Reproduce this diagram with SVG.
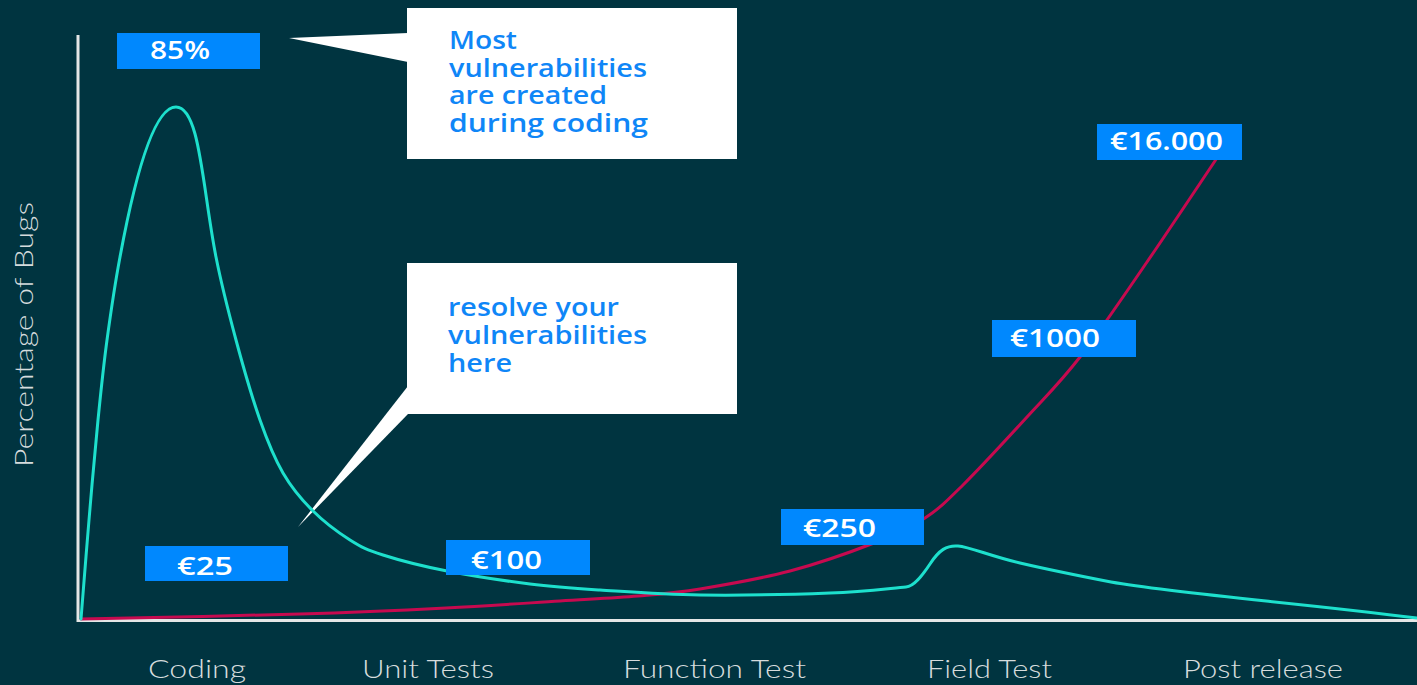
<svg xmlns="http://www.w3.org/2000/svg" width="1417" height="685" viewBox="0 0 1417 685">
  <style>
    .axis { stroke: #e4e6e6; stroke-width: 3; fill: none; }
    .bubble { fill: #ffffff; }
    .note { font-family: "Open Sans", "Noto Sans", "Liberation Sans", sans-serif; font-weight: 600; font-size: 25px; fill: #0f86f7; }
    .tag { fill: #0088fe; }
    .tagtext { font-family: "Open Sans", "Noto Sans", "Liberation Sans", sans-serif; font-weight: 600; font-size: 25px; fill: #ffffff; }
    .stage { font-family: "Lato", "Open Sans", "Liberation Sans", sans-serif; font-weight: 300; font-size: 26px; fill: #d6dcdd; }
    .bugs { fill: none; stroke: #1de0cd; stroke-width: 3; stroke-linejoin: round; stroke-linecap: round; }
    .cost { fill: none; stroke: #c60a4f; stroke-width: 3; stroke-linejoin: round; stroke-linecap: round; }
  </style>

  <rect x="0" y="0" width="1417" height="685" fill="#003440"/>

  <!-- axes -->
  <g id="axes">
    <polyline class="axis" points="78,35 78,620.5 1417,620.5"/>
    <text class="stage" transform="translate(33,467) rotate(-90)" textLength="265" lengthAdjust="spacingAndGlyphs">Percentage of Bugs</text>
  </g>

  <!-- phase labels along the x axis -->
  <g id="stages">
    <text class="stage" x="148" y="678" textLength="98" lengthAdjust="spacingAndGlyphs">Coding</text>
    <text class="stage" x="362" y="678" textLength="132" lengthAdjust="spacingAndGlyphs">Unit Tests</text>
    <text class="stage" x="623" y="678" textLength="183" lengthAdjust="spacingAndGlyphs">Function Test</text>
    <text class="stage" x="927" y="678" textLength="125" lengthAdjust="spacingAndGlyphs">Field Test</text>
    <text class="stage" x="1183" y="678" textLength="160" lengthAdjust="spacingAndGlyphs">Post release</text>
  </g>

  <!-- speech bubbles -->
  <g id="note-created">
    <polygon class="bubble" points="289,38 408,33 408,62"/>
    <rect class="bubble" x="407" y="8" width="330" height="151"/>
    <text class="note" x="449" y="49" textLength="68" lengthAdjust="spacingAndGlyphs">Most</text>
    <text class="note" x="449" y="77" textLength="198" lengthAdjust="spacingAndGlyphs">vulnerabilities</text>
    <text class="note" x="449" y="104" textLength="158" lengthAdjust="spacingAndGlyphs">are created</text>
    <text class="note" x="449" y="132" textLength="199" lengthAdjust="spacingAndGlyphs">during coding</text>
  </g>

  <g id="note-resolve">
    <polygon class="bubble" points="298,527 408,386 408,414"/>
    <rect class="bubble" x="407" y="263" width="330" height="151"/>
    <text class="note" x="448" y="316" textLength="171" lengthAdjust="spacingAndGlyphs">resolve your</text>
    <text class="note" x="448" y="344" textLength="199" lengthAdjust="spacingAndGlyphs">vulnerabilities</text>
    <text class="note" x="448" y="372" textLength="64" lengthAdjust="spacingAndGlyphs">here</text>
  </g>

  <!-- curves -->
  <g id="connectors">
    <path id="cost-curve" class="cost" d="M81,619 C117.5,618.2 239.2,615.8 300,614 C360.8,612.2 402.7,610.2 446,608 C489.3,605.8 528,603 560,601 C592,599 614.7,598 638,596 C661.3,594 674.7,593.2 700,589 C725.3,584.8 761,578.7 790,571 C819,563.3 851.5,551.8 874,543 C896.5,534.2 910.2,527.7 925,518 C939.8,508.3 946,501.8 963,485 C980,468.2 1007.5,438.3 1027,417 C1046.5,395.7 1060,382.8 1080,357 C1100,331.2 1124.2,295.2 1147,262 C1169.8,228.8 1205.3,175.3 1217,158"/>
    <path id="bug-curve" class="bugs" d="M81,619 C82.3,602.5 86.2,553.2 89,520 C91.8,486.8 95,450 98,420 C101,390 103.3,367.2 107,340 C110.7,312.8 114.8,284.8 120,257 C132.9,187.4 152,107 176,107 C200,107 202.3,187.4 216,257 C221.5,284.8 228.7,312.8 236,340 C243.3,367.2 252.2,397.8 260,420 C267.8,442.2 274.3,458 283,473 C291.7,488 300.8,498.8 312,510 C323.2,521.2 338.2,532.5 350,540 C361.8,547.5 366.8,549.8 383,555 C399.2,560.2 422.5,566.2 447,571 C471.5,575.8 504.5,580.8 530,584 C555.5,587.2 571.7,588.2 600,590 C628.3,591.8 661.7,594.5 700,595 C738.3,595.5 795.8,594.3 830,593 C864.2,591.7 892.5,588 906,587 C914,586.5 922,576 930,564 C939,550 947,545 958,546 C970,547 990,556 1020,563 C1050,570 1080,576 1111,582 C1180,594 1300,603 1417,618"/>
  </g>

  <!-- cost tags -->
  <g id="tag-85">
    <rect class="tag" x="117" y="33" width="143" height="36"/>
    <text class="tagtext" x="150" y="59" textLength="60" lengthAdjust="spacingAndGlyphs">85%</text>
  </g>
  <g id="tag-25">
    <rect class="tag" x="145" y="546" width="143" height="35"/>
    <text class="tagtext" x="177" y="575" textLength="56" lengthAdjust="spacingAndGlyphs">€25</text>
  </g>
  <g id="tag-100">
    <rect class="tag" x="446" y="540" width="144" height="35"/>
    <text class="tagtext" x="471" y="569" textLength="71" lengthAdjust="spacingAndGlyphs">€100</text>
  </g>
  <g id="tag-250">
    <rect class="tag" x="781" y="509" width="143" height="36"/>
    <text class="tagtext" x="803" y="537" textLength="73" lengthAdjust="spacingAndGlyphs">€250</text>
  </g>
  <g id="tag-1000">
    <rect class="tag" x="992" y="320" width="144" height="37"/>
    <text class="tagtext" x="1010" y="347" textLength="90" lengthAdjust="spacingAndGlyphs">€1000</text>
  </g>
  <g id="tag-16000">
    <rect class="tag" x="1097" y="124" width="145" height="36"/>
    <text class="tagtext" x="1110" y="150" textLength="113" lengthAdjust="spacingAndGlyphs">€16.000</text>
  </g>
</svg>
